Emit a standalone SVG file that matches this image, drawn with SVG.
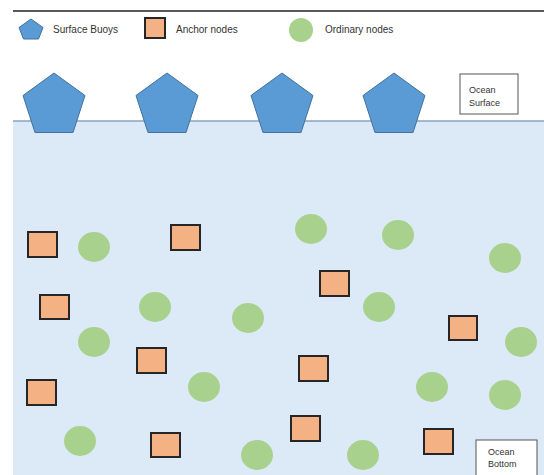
<svg xmlns="http://www.w3.org/2000/svg" width="544" height="475" viewBox="0 0 544 475">
<defs>
<style>
text{font-family:"Liberation Sans",Arial,sans-serif;fill:#333;}
.leg{font-size:10px;}
.lbl{font-size:9px;}
.buoy{fill:#5b9bd5;stroke:#41719c;stroke-width:1;}
.anchor{fill:#f4b183;stroke:#262626;stroke-width:2;}
.ord{fill:#a9d18e;}
.box{fill:#fff;stroke:#555;stroke-width:1;}
</style>
<polygon id="pent" points="0,-31 31,-8.5 19,28.5 -19,28.5 -31,-8.5"/>
</defs>
<rect width="544" height="475" fill="#fff"/>
<line x1="13" y1="11" x2="544" y2="11" stroke="#222" stroke-width="1.5"/>
<g id="legend">
<polygon class="buoy" points="31,19 43,27.5 38.5,39 23.5,39 19,27.5"/>
<text class="leg" x="53" y="33">Surface Buoys</text>
<rect class="anchor" x="145" y="18" width="20" height="20"/>
<text class="leg" x="176" y="33">Anchor nodes</text>
<circle class="ord" cx="301" cy="30" r="12"/>
<text class="leg" x="325" y="33">Ordinary nodes</text>
</g>
<g id="ocean">
<rect x="13" y="121" width="531" height="354" fill="#dce9f6"/>
<line x1="13" y1="121" x2="544" y2="121" stroke="#8aa4bf" stroke-width="1.5"/>
</g>
<g id="buoys">
<use href="#pent" class="buoy" transform="translate(54,104)"/>
<use href="#pent" class="buoy" transform="translate(167,104)"/>
<use href="#pent" class="buoy" transform="translate(282,104)"/>
<use href="#pent" class="buoy" transform="translate(394,104)"/>
</g>
<g id="ocean-surface">
<rect class="box" x="460" y="74" width="58" height="40"/>
<text class="lbl" x="469" y="93">Ocean</text>
<text class="lbl" x="469" y="106">Surface</text>
</g>
<g id="ocean-bottom">
<rect class="box" x="476" y="440" width="61" height="40"/>
<text class="lbl" x="488" y="455">Ocean</text>
<text class="lbl" x="488" y="467">Bottom</text>
</g>
<g id="anchors">
<rect class="anchor" x="28" y="232" width="29" height="25"/>
<rect class="anchor" x="171" y="225" width="29" height="25"/>
<rect class="anchor" x="40" y="295" width="29" height="24"/>
<rect class="anchor" x="320" y="271" width="29" height="25"/>
<rect class="anchor" x="449" y="316" width="28" height="24"/>
<rect class="anchor" x="137" y="348" width="29" height="25"/>
<rect class="anchor" x="27" y="380" width="29" height="25"/>
<rect class="anchor" x="151" y="433" width="29" height="24"/>
<rect class="anchor" x="299" y="356" width="29" height="25"/>
<rect class="anchor" x="291" y="416" width="29" height="25"/>
<rect class="anchor" x="424" y="429" width="29" height="25"/>
</g>
<g id="ordinary">
<ellipse class="ord" cx="94" cy="247" rx="16" ry="15"/>
<ellipse class="ord" cx="311" cy="229" rx="16" ry="15"/>
<ellipse class="ord" cx="398" cy="235" rx="16" ry="15"/>
<ellipse class="ord" cx="505" cy="258" rx="16" ry="15"/>
<ellipse class="ord" cx="155" cy="307" rx="16" ry="15"/>
<ellipse class="ord" cx="248" cy="318" rx="16" ry="15"/>
<ellipse class="ord" cx="379" cy="307" rx="16" ry="15"/>
<ellipse class="ord" cx="94" cy="342" rx="16" ry="15"/>
<ellipse class="ord" cx="521" cy="342" rx="16" ry="15"/>
<ellipse class="ord" cx="204" cy="387" rx="16" ry="15"/>
<ellipse class="ord" cx="432" cy="387" rx="16" ry="15"/>
<ellipse class="ord" cx="505" cy="395" rx="16" ry="15"/>
<ellipse class="ord" cx="80" cy="441" rx="16" ry="15"/>
<ellipse class="ord" cx="257" cy="455" rx="16" ry="15"/>
<ellipse class="ord" cx="363" cy="455" rx="16" ry="15"/>
</g>
</svg>
